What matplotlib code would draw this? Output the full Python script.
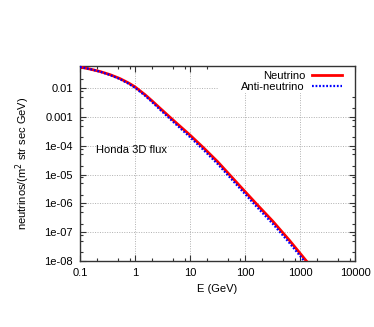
import matplotlib
matplotlib.use("Agg")
import matplotlib.pyplot as plt
from matplotlib.patches import Rectangle
from matplotlib.ticker import LogLocator, FixedLocator, FixedFormatter, NullFormatter

plt.rcParams['font.family'] = ['Liberation Sans', 'DejaVu Sans']

# energies (GeV) and fluxes
energy = [0.1, 0.151, 0.23, 0.355, 0.53, 0.76, 1.0, 1.52, 2.0, 2.85, 5.34, 10.0,
          17.8, 32.0, 81.0, 158.0, 320.0, 631.0, 1230.0, 2000.0]
nu_flux = [0.0537, 0.0457, 0.0376, 0.029, 0.0214, 0.0151, 0.011, 0.00589, 0.00372,
           0.0020, 6.76e-4, 2.34e-4, 8.3e-5, 2.75e-5, 3.98e-6, 1.0e-6, 2.4e-7,
           5.43e-8, 1.15e-8, 3.8e-9]
nubar_flux = [0.0537, 0.0457, 0.0371, 0.0282, 0.0205, 0.01425, 0.01026, 0.00544, 0.00339,
              0.00178, 5.89e-4, 1.99e-4, 6.98e-5, 2.29e-5, 3.27e-6, 8.1e-7, 1.95e-7,
              4.41e-8, 9.35e-9, 3.09e-9]

xticks = [0.1, 1, 10, 100, 1000, 10000]
xticklabels = ["0.1", "1", "10", "100", "1000", "10000"]
yticks = [1e-8, 1e-7, 1e-6, 1e-5, 1e-4, 1e-3, 1e-2]
yticklabels = ["1e-08", "1e-07", "1e-06", "1e-05", "1e-04", "0.001", "0.01"]

fig = plt.figure(figsize=(3.74, 3.27), dpi=100)
ax = fig.add_axes([0.2139, 0.2018, 0.7353, 0.5962])

ax.plot(energy, nu_flux, color='#ff0000', lw=2.0, label='Neutrino', zorder=3)
ax.plot(energy, nubar_flux, color='#0000ff', lw=1.6, ls=(0, (0.8, 0.8)),
        label='Anti-neutrino', zorder=3)

ax.set_xscale('log')
ax.set_yscale('log')
ax.set_xlim(0.1, 10000)
ax.set_ylim(1e-8, 0.058)

ax.xaxis.set_major_locator(FixedLocator(xticks))
ax.xaxis.set_major_formatter(FixedFormatter(xticklabels))
ax.yaxis.set_major_locator(FixedLocator(yticks))
ax.yaxis.set_major_formatter(FixedFormatter(yticklabels))
ax.xaxis.set_minor_locator(LogLocator(base=10, subs=[2, 5, 8]))
ax.yaxis.set_minor_locator(LogLocator(base=10, subs=[2, 5, 8]))
ax.xaxis.set_minor_formatter(NullFormatter())
ax.yaxis.set_minor_formatter(NullFormatter())

ax.tick_params(which='both', direction='in', top=True, right=True, labelsize=8, colors='#333333')
ax.tick_params(which='major', length=4, width=0.8, pad=5)
ax.tick_params(which='minor', length=2, width=0.8)
for lab in ax.get_xticklabels() + ax.get_yticklabels():
    lab.set_color('black')
for sp in ax.spines.values():
    sp.set_color('#333333')
    sp.set_linewidth(1.0)

ax.grid(True, which='major', color='#b0b0b0', ls=(0, (1, 1.5)), lw=0.7)

# white key box over the grid, as gnuplot does
ax.add_patch(Rectangle((0.505, 0.862), 0.495, 0.138, transform=ax.transAxes,
                       facecolor='white', edgecolor='none', zorder=2))

ax.set_xlabel('E (GeV)', fontsize=8, labelpad=4)
ax.set_ylabel('neutrinos/(m$^2$ str sec GeV)', fontsize=8, labelpad=9)
ax.text(0.06, 0.555, 'Honda 3D flux', transform=ax.transAxes, fontsize=8)

leg = ax.legend(loc='upper right', bbox_to_anchor=(0.961, 0.988), fontsize=8,
                markerfirst=False, frameon=False, handlelength=2.7, borderaxespad=0,
                labelspacing=0.1, handletextpad=0.63, borderpad=0.2)
for t in leg.get_texts():
    t.set_ha('right')
leg.set_zorder(5)

fig.savefig('out.png', dpi=100)
